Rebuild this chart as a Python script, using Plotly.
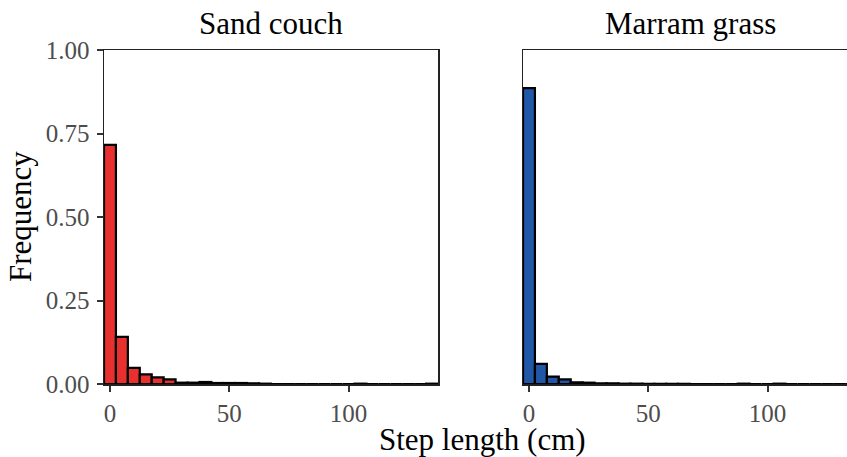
import plotly.graph_objects as go

# Bin centres (cm), bin width 5
bins = [0, 5, 10, 15, 20, 25, 30, 35, 40, 45, 50, 55, 60, 65, 70, 75, 80, 85,
        90, 95, 100, 105, 110, 115, 120, 125, 130, 135]

sand_couch = [0.716, 0.141, 0.048, 0.029, 0.020, 0.014, 0.004, 0.004, 0.006, 0.003,
              0.003, 0.003, 0.002, 0.001, 0.0, 0.0, 0.0, 0.0,
              0.0, 0.0, 0.0, 0.001, 0.0, 0.0, 0.0, 0.0, 0.0, 0.001]

marram_grass = [0.886, 0.060, 0.022, 0.014, 0.005, 0.004, 0.002, 0.002, 0.001, 0.001,
                0.0005, 0.0005, 0.0005, 0.0005, 0.0, 0.0, 0.0, 0.0,
                0.001, 0.0, 0.0, 0.001, 0.0, 0.0, 0.0, 0.0, 0.0, 0.0]

panel_titles = ["Sand couch", "Marram grass"]
x_ticks = [0, 50, 100]
y_ticks = [0, 0.25, 0.5, 0.75, 1.0]
y_ticklabels = ["0.00", "0.25", "0.50", "0.75", "1.00"]

W, H = 847, 457
FONT = "Liberation Serif"

fig = go.Figure()
fig.add_trace(go.Bar(x=bins, y=sand_couch, width=5, xaxis="x", yaxis="y",
                     marker=dict(color="#E8312F", line=dict(color="black", width=2.2)),
                     showlegend=False))
fig.add_trace(go.Bar(x=bins, y=marram_grass, width=5, xaxis="x2", yaxis="y2",
                     marker=dict(color="#2157A7", line=dict(color="black", width=2.2)),
                     showlegend=False))

def px_x(p):
    return p / W

def px_y(p):
    return (H - p) / H

ydom = [px_y(384), px_y(50)]

axis_common = dict(showgrid=False, zeroline=False, showline=True, linecolor="#222222",
                   linewidth=1.5, ticks="outside", ticklen=6, tickwidth=2,
                   tickcolor="#333333", automargin=False,
                   tickfont=dict(family=FONT, size=25, color="#4D4D4D"))

fig.update_layout(
    width=W, height=H,
    margin=dict(l=0, r=0, t=0, b=0),
    paper_bgcolor="white", plot_bgcolor="white",
    bargap=0,
    xaxis=dict(domain=[px_x(104), px_x(438)], range=[-2.5, 137.5], anchor="y",
               tickvals=x_ticks, mirror=True, **axis_common),
    yaxis=dict(domain=ydom, range=[0, 1], anchor="x", tickvals=y_ticks,
               ticktext=y_ticklabels, mirror=True, ticklabelstandoff=2, **axis_common),
    xaxis2=dict(domain=[px_x(523), 1.0], range=[-2.5, 133.3], anchor="y2",
                tickvals=x_ticks, mirror=True, **axis_common),
    yaxis2=dict(domain=ydom, range=[0, 1], anchor="x2", showgrid=False, zeroline=False,
                showline=True, linecolor="#222222", linewidth=1.5, ticks="",
                showticklabels=False, automargin=False),
)

ann = [
    dict(text=panel_titles[0], x=px_x(271), y=px_y(23)),
    dict(text=panel_titles[1], x=px_x(690), y=px_y(23)),
    dict(text="Step length (cm)", x=px_x(482), y=px_y(439)),
    dict(text="Frequency", x=px_x(20), y=px_y(217), textangle=-90),
]
for a in ann:
    fig.add_annotation(xref="paper", yref="paper", showarrow=False,
                       xanchor="center", yanchor="middle",
                       font=dict(family=FONT, size=31, color="black"), **a)

fig.write_html("out.html",
               config={"displayModeBar": False, "staticPlot": True},
               post_script="document.body.style.margin='0';document.body.style.overflow='hidden';")
